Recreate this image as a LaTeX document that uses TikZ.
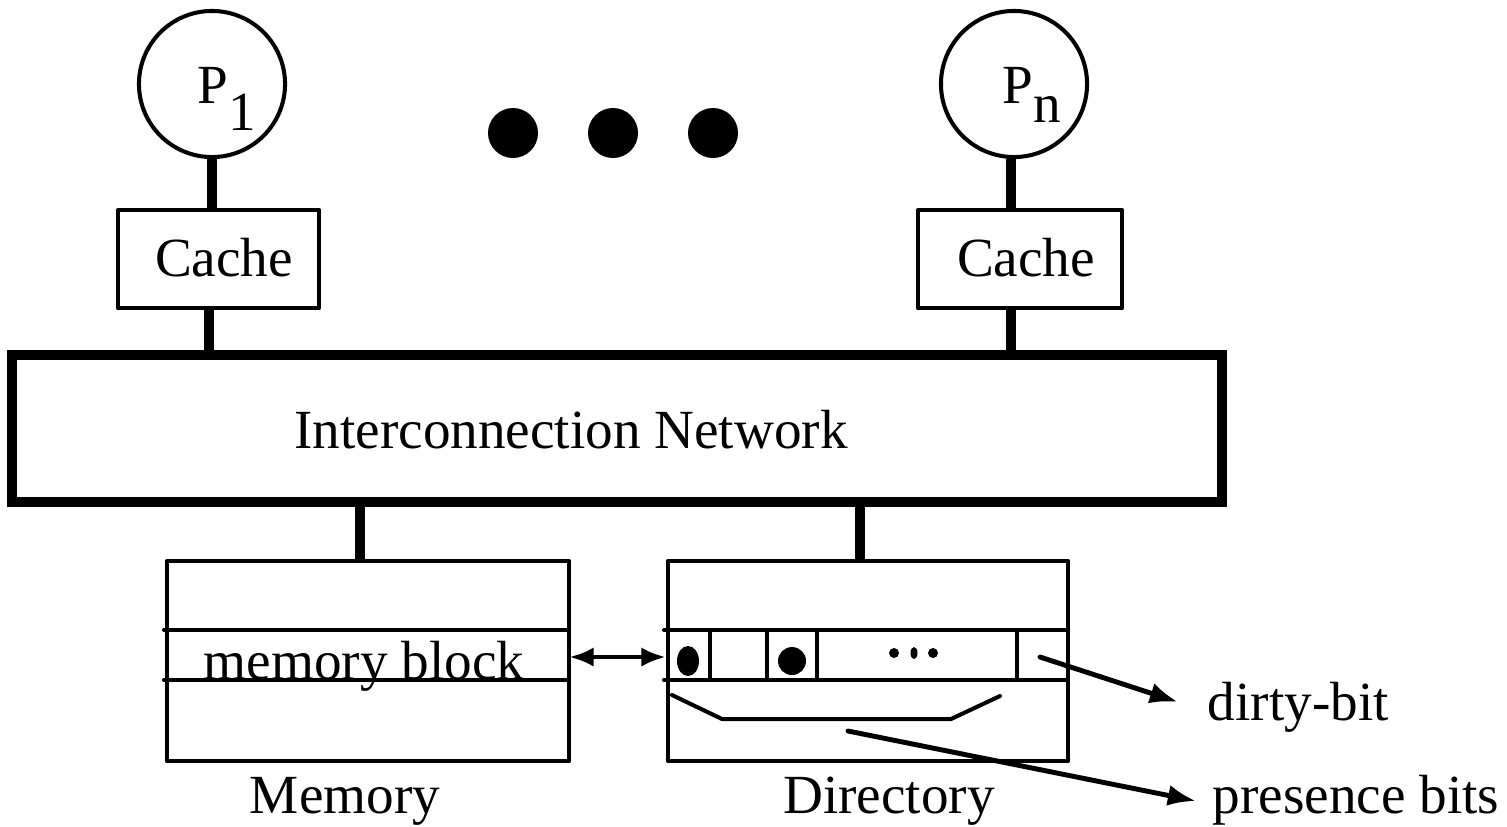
\documentclass[tikz,border=0pt]{standalone}
\usepackage{fontspec}
\setmainfont{Liberation Serif}
\usetikzlibrary{arrows.meta}
\begin{document}
\begin{tikzpicture}[x=0.01cm,y=-0.01cm,
  lbl/.style={font=\fontsize{15.7}{18}\selectfont, inner sep=0},
  box/.style={draw, line width=1.15pt, inner sep=0, line join=round},
  proc/.style={draw, circle, line width=1.15pt, minimum size=1.46cm, inner sep=0},
  link/.style={line width=3.1pt},
  thinline/.style={line width=1.15pt, line cap=round},
  ptr/.style={line width=1.4pt, line cap=round, -{Latex[length=8pt,width=6pt]}},
  dptr/.style={line width=1.4pt, {Latex[length=7pt,width=5.5pt]}-{Latex[length=7pt,width=5.5pt]}},
]
\useasboundingbox (0,0) rectangle (1507,826);

% processors
\node[proc] (p1) at (212,84) {};
\node[proc] (pn) at (1014,84) {};
\node[lbl, anchor=base west] (p1t) at (197,103) {P\raisebox{-7.7pt}{1}};
\node[lbl, anchor=base west] (pnt) at (1002,103) {P\raisebox{-5.4pt}{n}};

% ellipsis between processors
\fill (513,133) circle (25) (613,133) circle (25) (713,133) circle (25);

% caches
\node[box, minimum width=2.01cm, minimum height=0.98cm] (c1) at (218.5,259) {};
\node[box, minimum width=2.04cm, minimum height=0.98cm] (cn) at (1020,259) {};
\node[lbl, anchor=base] (c1t) at (224,276) {Cache};
\node[lbl, anchor=base] (cnt) at (1026,276) {Cache};

% interconnection network
\node[draw, line width=2.85pt, inner sep=0, minimum width=12.1cm, minimum height=1.47cm] (net) at (617,428.5) {};
\node[lbl, anchor=base] (nett) at (571,448) {Interconnection Network};

% memory and directory
\node[box, minimum width=4.02cm, minimum height=2cm] (mem) at (368,661) {};
\node[box, minimum width=4cm, minimum height=2cm] (dir) at (868,661) {};

% vertical links
\coordinate (xa) at (209,0);
\coordinate (xb) at (1011,0);
\coordinate (xm) at (360,0);
\coordinate (xd) at (860,0);
\draw[link] (p1.south) -- (p1.south |- c1.north);
\draw[link] (pn.south -| xb) -- (cn.north -| xb);
\draw[link] (c1.south -| xa) -- (net.north -| xa);
\draw[link] (cn.south -| xb) -- (net.north -| xb);
\draw[link] (net.south -| xm) -- (mem.north -| xm);
\draw[link] (net.south -| xd) -- (dir.north -| xd);

% memory block row
\draw[thinline] (164,630) -- (569,630) (164,680) -- (569,680);
\node[lbl, anchor=base] (mbt) at (364,679) {memory block};
\node[lbl, anchor=base] (memt) at (345,813) {Memory};

% directory entry
\draw[thinline] (664,630) -- (1068,630) (664,680) -- (1068,680);
\draw[thinline] (710,630) -- (710,680) (767,630) -- (767,680)
  (817,630) -- (817,680) (1017,630) -- (1017,680);
\fill (688,661) ellipse (11 and 15);
\fill (792,661) circle (14);
\fill (894,653) circle (5) (933,653) circle (5);
\fill (914,653) ellipse (3.5 and 6);
\draw[thinline, line join=round] (672,695) -- (722,719) -- (951,719) -- (1000,696);
\node[lbl, anchor=base] (dirt) at (889,813) {Directory};

% pointers
\coordinate (ma) at (569,657);
\coordinate (da) at (666,657);
\draw[dptr] (ma) -- (da);

\coordinate (db0) at (1040,657);
\coordinate (db1) at (1178,702);
\node[lbl, anchor=base west] (dbt) at (1207,720) {dirty-bit};
\draw[ptr] (db0) -- (db1);

\coordinate (pb0) at (848,731);
\coordinate (pb1) at (1196,801);
\node[lbl, anchor=base west] (pbt) at (1212,813) {presence bits};
\draw[ptr] (pb0) -- (pb1);
\end{tikzpicture}
\end{document}
